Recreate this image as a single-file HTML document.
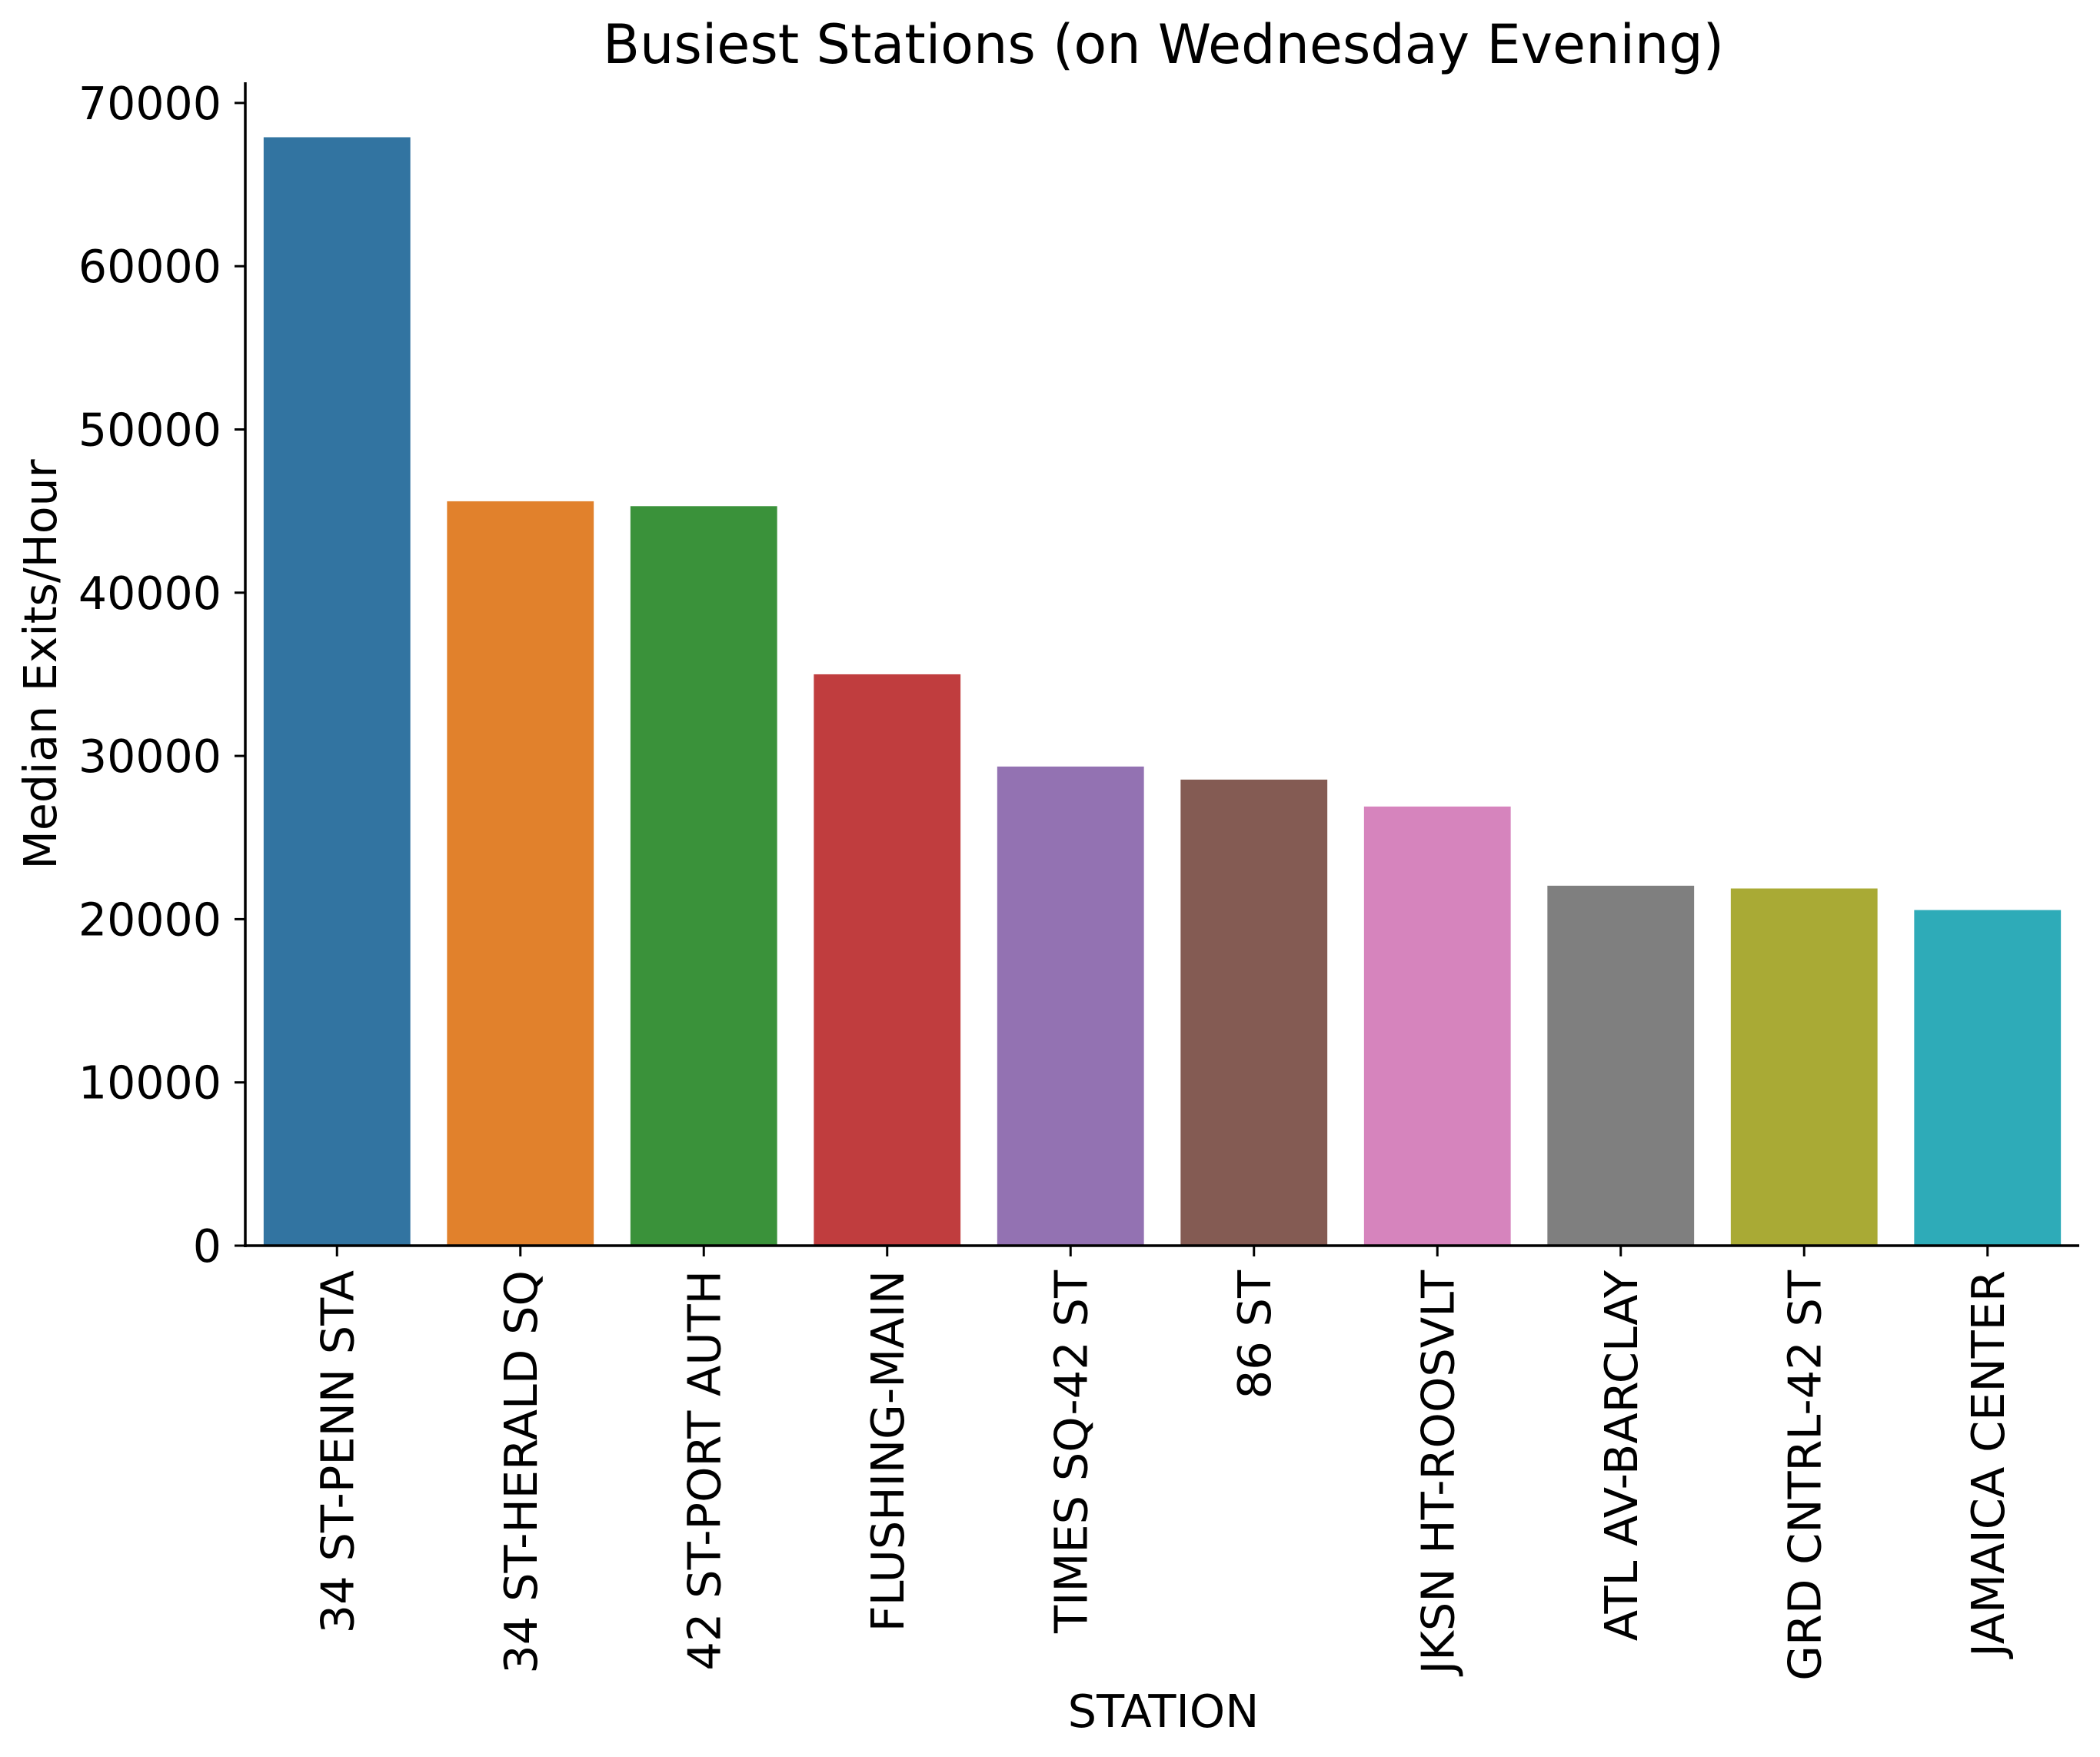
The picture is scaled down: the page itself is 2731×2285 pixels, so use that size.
<!DOCTYPE html>
<html><head><meta charset="utf-8"><style>
html,body{margin:0;padding:0;background:#fff}
svg text{font-family:"DejaVu Sans","Liberation Sans",sans-serif;fill:#000}
</style></head><body>
<svg id="chart" width="2731" height="2280" viewBox="0 0 2731 2280" xmlns="http://www.w3.org/2000/svg">
<rect width="2731" height="2280" fill="#fff"/>
<text x="1513" y="82" font-size="70" text-anchor="middle">Busiest Stations (on Wednesday Evening)</text>
<text transform="translate(73,864) rotate(-90)" font-size="58.5" text-anchor="middle">Median Exits/Hour</text>
<text x="1513" y="2246" font-size="59" text-anchor="middle">STATION</text>
<g id="bars"></g><g id="yticks"></g><g id="xticks"></g>
<line x1="319" y1="107" x2="319" y2="1622" stroke="#000" stroke-width="3.5"/>
<line x1="317" y1="1620" x2="2704" y2="1620" stroke="#000" stroke-width="3.5"/>
</svg>
<script>
const categories = ["34 ST-PENN STA","34 ST-HERALD SQ","42 ST-PORT AUTH","FLUSHING-MAIN","TIMES SQ-42 ST","86 ST","JKSN HT-ROOSVLT","ATL AV-BARCLAY","GRD CNTRL-42 ST","JAMAICA CENTER"];
const values = [67900,45600,45300,35000,29350,28550,26900,22050,21880,20560];
const colors = ["#3274a1","#e1812c","#3a923a","#c03d3e","#9372b2","#845b53","#d684bd","#7f7f7f","#a9aa35","#2eabb8"];
const yTicks = [0,10000,20000,30000,40000,50000,60000,70000];
const NS="http://www.w3.org/2000/svg";
const x0=319,x1=2704,y0=1620,pxPer=212.3/10000;
const step=(x1-x0)/categories.length;
function yScale(v){return y0-v*pxPer;}
function xCenter(i){return x0+step*(i+0.5);}
const bars=document.getElementById('bars'),yt=document.getElementById('yticks'),xt=document.getElementById('xticks');
categories.forEach((c,i)=>{
  const r=document.createElementNS(NS,'rect');
  
  
  const w=step*0.8;
  r.setAttribute('x',xCenter(i)-w/2);r.setAttribute('width',w);
  r.setAttribute('y',yScale(values[i]));r.setAttribute('height',y0-yScale(values[i]));
  r.setAttribute('fill',colors[i]);bars.appendChild(r);
  const l=document.createElementNS(NS,'line');
  
  
  l.setAttribute('x1',xCenter(i));l.setAttribute('x2',xCenter(i));l.setAttribute('y1',y0);l.setAttribute('y2',y0+14);
  l.setAttribute('stroke','#000');l.setAttribute('stroke-width','3');xt.appendChild(l);
  const t=document.createElementNS(NS,'text');
  
  
  t.setAttribute('transform','translate('+(xCenter(i)+21)+','+(y0+32)+') rotate(-90)');
  t.setAttribute('text-anchor','end');t.setAttribute('font-size','59');t.textContent=c;xt.appendChild(t);
});
yTicks.forEach(v=>{
  const l=document.createElementNS(NS,'line');
  
  
  l.setAttribute('x1',x0-14);l.setAttribute('x2',x0);l.setAttribute('y1',yScale(v));l.setAttribute('y2',yScale(v));
  l.setAttribute('stroke','#000');l.setAttribute('stroke-width','3');yt.appendChild(l);
  const t=document.createElementNS(NS,'text');
  
  
  t.setAttribute('x',x0-31);t.setAttribute('y',yScale(v)+21);t.setAttribute('text-anchor','end');
  t.setAttribute('font-size','58.5');t.textContent=v;yt.appendChild(t);
});
</script>
</body></html>
